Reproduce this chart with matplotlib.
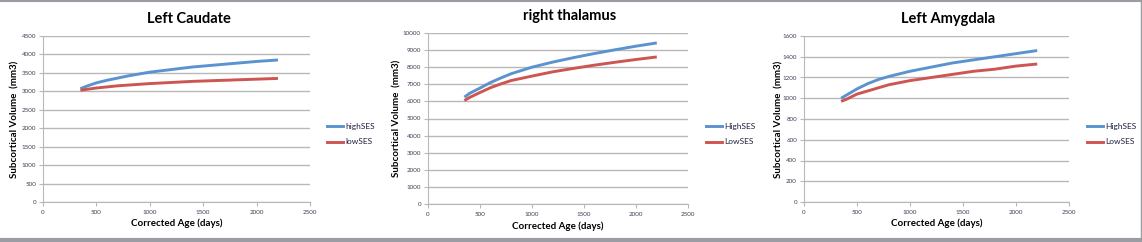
import matplotlib
matplotlib.use("Agg")
import matplotlib.pyplot as plt

W, H = 1142, 242

ages = [350, 400, 500, 600, 700, 800, 1000, 1200, 1400, 1600, 1800, 2000, 2200]

caudate_high = [3070, 3130, 3230, 3300, 3360, 3420, 3520, 3590, 3660, 3710, 3760, 3810, 3850]
caudate_low = [3030, 3050, 3090, 3120, 3150, 3170, 3210, 3240, 3270, 3290, 3310, 3330, 3350]

thalamus_high = [6250, 6470, 6780, 7100, 7370, 7620, 8000, 8300, 8560, 8800, 9020, 9230, 9420]
thalamus_low = [6050, 6230, 6520, 6800, 7020, 7220, 7480, 7730, 7930, 8120, 8290, 8450, 8600]

amygdala_high = [1000, 1030, 1090, 1140, 1180, 1210, 1260, 1300, 1340, 1370, 1400, 1430, 1460]
amygdala_low = [970, 990, 1040, 1070, 1100, 1130, 1170, 1200, 1230, 1260, 1280, 1310, 1330]

panels = [
    dict(title="Left Caudate", high=caudate_high, low=caudate_low,
         labels=["highSES", "lowSES"], ymax=4500, ystep=500,
         box=(43, 310, 36, 202), leg_x=327, ylab_x=15, xlab_y=223, title_y=19),
    dict(title="right thalamus", high=thalamus_high, low=thalamus_low,
         labels=["HighSES", "LowSES"], ymax=10000, ystep=1000,
         box=(428, 688, 33, 204), leg_x=706, ylab_x=397, xlab_y=226, title_y=16),
    dict(title="Left Amygdala", high=amygdala_high, low=amygdala_low,
         labels=["HighSES", "LowSES"], ymax=1600, ystep=200,
         box=(804, 1069, 36, 202), leg_x=1087, ylab_x=779, xlab_y=223, title_y=19),
]

BLUE = "#5b93cf"
RED = "#cd5552"
GRID = "#b8b8b8"
TICK = "#404058"
FONT = "Lato"

fig = plt.figure(figsize=(W / 100, H / 100), dpi=100)
fig.patch.set_facecolor("white")

for p in panels:
    x0, x1, y0, y1 = p["box"]
    ax = fig.add_axes([x0 / W, (H - y1) / H, (x1 - x0) / W, (y1 - y0) / H])
    ax.plot(ages, p["high"], color=BLUE, lw=2.1, solid_capstyle="butt")
    ax.plot(ages, p["low"], color=RED, lw=2.1, solid_capstyle="butt")
    ax.set_xlim(0, 2500)
    ax.set_ylim(0, p["ymax"])
    ax.set_xticks(range(0, 2501, 500))
    ax.set_yticks(range(0, p["ymax"] + 1, p["ystep"]))
    ax.grid(axis="y", color=GRID, lw=1.0)
    ax.set_axisbelow(True)
    for s in ["top", "right"]:
        ax.spines[s].set_visible(False)
    ax.spines["left"].set_color(GRID)
    ax.spines["bottom"].set_color(GRID)
    ax.tick_params(axis="y", length=3, width=0.8, color=GRID, labelsize=4.5,
                   labelcolor=TICK, pad=2)
    ax.tick_params(axis="x", length=3, width=0.8, color=GRID, labelsize=4.5,
                   labelcolor=TICK, pad=3)
    for lab in ax.get_xticklabels() + ax.get_yticklabels():
        lab.set_fontfamily(FONT)

    cx = (x0 + x1) / 2
    fig.text((cx + 12) / W, 1 - p["title_y"] / H, p["title"], ha="center", va="center",
             fontsize=10.5, fontweight="bold", fontfamily=FONT)
    fig.text(cx / W, 1 - p["xlab_y"] / H, "Corrected Age (days)", ha="center",
             va="center", fontsize=7, fontweight="bold", fontfamily=FONT)
    fig.text(p["ylab_x"] / W, 1 - ((y0 + y1) / 2) / H, "Subcortical Volume  (mm3)",
             ha="center", va="center", rotation=90, fontsize=7, fontweight="bold",
             fontfamily=FONT)

    lx = p["leg_x"]
    for ly, col, txt in [(126, BLUE, p["labels"][0]), (142, RED, p["labels"][1])]:
        fig.add_artist(plt.Line2D([lx / W, (lx + 16) / W], [1 - ly / H, 1 - ly / H],
                                  color=col, lw=2.1, transform=fig.transFigure))
        fig.text((lx + 18) / W, 1 - ly / H, txt, ha="left", va="center",
                 fontsize=6, color="#202040", fontfamily=FONT)

# outer frame
frame = "#9a9ea4"
fig.add_artist(plt.Line2D([0, 1], [1 - 0.5 / H, 1 - 0.5 / H], color=frame, lw=1.5,
                          transform=fig.transFigure))
fig.add_artist(plt.Line2D([0, 1], [2 / H, 2 / H], color=frame, lw=3,
                          transform=fig.transFigure))
fig.add_artist(plt.Line2D([1 - 1 / W, 1 - 1 / W], [0, 1], color=frame, lw=1,
                          transform=fig.transFigure))

fig.savefig("out.png", dpi=100)
